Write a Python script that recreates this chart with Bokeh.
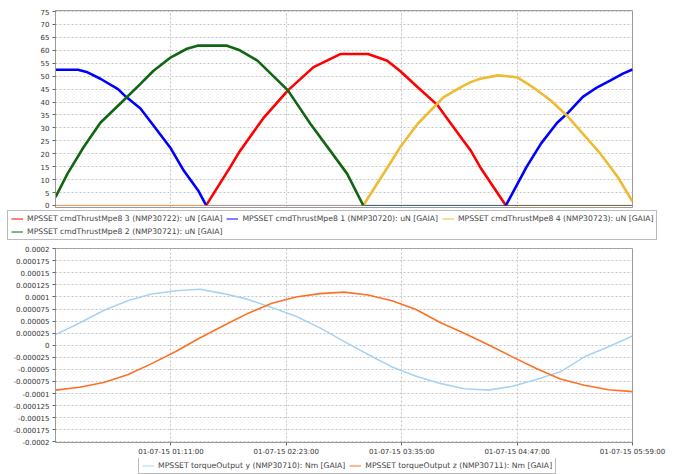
import datetime as dt

from bokeh.embed import file_html
from bokeh.models import FixedTicker, Legend, LegendItem, Range1d
from bokeh.plotting import figure
from bokeh.resources import INLINE

# ---------------------------------------------------------------- data
START = dt.datetime(2015, 6, 30, 23, 59)
END = START + dt.timedelta(hours=6)

# Thruster commands (uN); sample times in minutes after START
MPE8_1_MIN = [0, 14, 20, 28, 39, 44, 53, 61, 72, 80, 89, 94,
              281, 294, 303, 313, 320, 329, 338, 346, 354, 360]
MPE8_1_VAL = [52.5, 52.5, 51.5, 49, 45, 42, 37.5, 31, 22, 13.5, 5.8, 0,
              0, 15, 24, 32, 36, 42, 45.7, 48.3, 51, 52.6]

MPE8_2_MIN = [0, 7.5, 17.5, 28, 42.4, 53, 61, 72, 82, 88.6, 107, 115,
              126, 145, 159, 171.6, 182, 192, 360]
MPE8_2_VAL = [3.2, 12.3, 22.5, 32, 40.6, 47, 52, 57.3, 60.6, 61.8, 61.8, 60,
              56, 44.5, 31.6, 21, 12.2, 0, 0]

MPE8_3_MIN = [0, 94, 109, 115, 130, 145, 161, 178, 195, 207, 215, 226,
              238, 254.5, 259, 265, 281, 360]
MPE8_3_VAL = [0, 0, 14.8, 21, 34, 44.5, 53.5, 58.6, 58.6, 56, 52, 45.7,
              39, 25, 21.3, 14.8, 0, 0]

MPE8_4_MIN = [0, 192, 209, 215, 226, 242, 252.7, 259, 265, 276, 288, 298,
              309, 319, 329, 340, 351, 360]
MPE8_4_VAL = [0, 0, 16.5, 22.5, 31.6, 41.8, 45.7, 47.7, 49, 50.3, 49.6, 45.7,
              40.6, 34.8, 27.8, 20, 10.8, 1.5]

# Torque outputs (Nm), one sample every 15 minutes from START
TORQUE_STEP_MIN = 15
TORQUE_Y = [0.000022, 0.000046, 0.000072, 0.000092, 0.000106, 0.000113,
            0.000116, 0.000107, 0.000095, 0.000078, 0.00006, 0.000036,
            0.000008, -0.000019, -0.000045, -0.000064, -0.000079, -0.00009,
            -0.000093, -0.000085, -0.000071, -0.000055, -0.000024,
            -0.000003, 0.000019]
TORQUE_Z = [-0.000093, -0.000087, -0.000077, -0.000061, -0.000038,
            -0.000013, 0.000015, 0.000041, 0.000066, 0.000087, 0.0001,
            0.000107, 0.00011, 0.000104, 0.000092, 0.000074, 0.000047,
            0.000025, 0.000001, -0.000024, -0.000048, -0.00007, -0.000083,
            -0.000092, -0.000096]

X_TICKS = ["2015-07-01 01:11", "2015-07-01 02:23", "2015-07-01 03:35",
           "2015-07-01 04:47", "2015-07-01 05:59"]
X_TICK_LABELS = ["01-07-15 01:11:00", "01-07-15 02:23:00", "01-07-15 03:35:00",
                 "01-07-15 04:47:00", "01-07-15 05:59:00"]

Y1_TICKS = list(range(0, 80, 5))

Y2_TICKS = [0.0002, 0.000175, 0.00015, 0.000125, 0.0001, 0.000075, 0.00005,
            0.000025, 0.0, -0.000025, -0.00005, -0.000075, -0.0001,
            -0.000125, -0.00015, -0.000175, -0.0002]
Y2_LABELS = ["0.0002", "0.000175", "0.00015", "0.000125", "0.0001",
             "0.000075", "0.00005", "0.000025", "0", "-0.000025", "-0.00005",
             "-0.000075", "-0.0001", "-0.000125", "-0.00015", "-0.000175",
             "-0.0002"]

THRUST_SERIES = [
    ("MPSSET cmdThrustMpe8 3 (NMP30722): uN [GAIA]", MPE8_3_MIN, MPE8_3_VAL, "#ff0000"),
    ("MPSSET cmdThrustMpe8 1 (NMP30720): uN [GAIA]", MPE8_1_MIN, MPE8_1_VAL, "#0000ff"),
    ("MPSSET cmdThrustMpe8 4 (NMP30723): uN [GAIA]", MPE8_4_MIN, MPE8_4_VAL, "#eebb33"),
    ("MPSSET cmdThrustMpe8 2 (NMP30721): uN [GAIA]", MPE8_2_MIN, MPE8_2_VAL, "#116611"),
]
TORQUE_SERIES = [
    ("MPSSET torqueOutput y (NMP30710): Nm [GAIA]", TORQUE_Y, "#a9d3f3"),
    ("MPSSET torqueOutput z (NMP30711): Nm [GAIA]", TORQUE_Z, "#ff7024"),
]

# ---------------------------------------------------------------- helpers
FONT = "DejaVu Sans"
TICK_COLOR = "#333333"
GRID_COLOR = "#c4c4c4"
FRAME_COLOR = "#9a9a9a"
WIDTH = 673


def to_time(minutes):
    return [START + dt.timedelta(minutes=m) for m in minutes]


def to_ms(stamp):
    t = dt.datetime.strptime(stamp, "%Y-%m-%d %H:%M")
    return (t - dt.datetime(1970, 1, 1)).total_seconds() * 1000.0


def active_segments(times, vals):
    """Split a series into the stretches where the thruster is firing."""
    xs, ys, cx, cy = [], [], [], []
    for i in range(len(vals) - 1):
        if vals[i] == 0 and vals[i + 1] == 0:
            if cx:
                xs.append(cx)
                ys.append(cy)
                cx, cy = [], []
            continue
        if not cx:
            cx, cy = [times[i]], [vals[i]]
        cx.append(times[i + 1])
        cy.append(vals[i + 1])
    if cx:
        xs.append(cx)
        ys.append(cy)
    return xs, ys


def style_axis(ax, standoff):
    ax.major_label_text_font = FONT
    ax.major_label_text_font_size = "7px"
    ax.major_label_text_color = TICK_COLOR
    ax.axis_line_color = FRAME_COLOR
    ax.major_tick_line_color = "#666666"
    ax.major_tick_out = 3
    ax.major_tick_in = 0
    ax.minor_tick_line_color = None
    ax.major_label_standoff = standoff


def style_common(p):
    p.outline_line_color = FRAME_COLOR
    p.outline_line_width = 1
    p.background_fill_color = "white"
    p.border_fill_color = "white"
    for ax in p.yaxis:
        style_axis(ax, 3)
    for g in p.grid:
        g.grid_line_color = GRID_COLOR
        g.grid_line_dash = "2 2"
        g.grid_line_width = 1


def legend_strip(height, entries, location, ncols):
    """A bare strip that carries only a boxed legend."""
    f = figure(width=WIDTH, height=height, x_range=Range1d(0, 1),
               y_range=Range1d(0, 1), x_axis_location=None,
               y_axis_location=None, output_backend="svg",
               toolbar_location=None, min_border=0)
    f.grid.visible = False
    f.outline_line_color = None
    f.border_fill_color = "white"
    items = []
    for label, color in entries:
        # swatch renderer; its points sit outside the visible range
        r = f.line(x=[2, 3], y=[2, 2], line_color=color, line_width=1)
        items.append(LegendItem(label=label, renderers=[r]))
    leg = Legend(
        items=items, location=location, orientation="horizontal",
        ncols=ncols,
        label_text_font=FONT, label_text_font_size="7.7px",
        label_text_color="#444444", label_standoff=4, label_height=9,
        glyph_width=12, glyph_height=9, spacing=4, padding=3, margin=0,
        border_line_color="#777777", border_line_width=1,
        background_fill_color="white", background_fill_alpha=1.0,
    )
    f.add_layout(leg, "center")
    return f


x_range = Range1d(START, END)
x_tick_ms = [to_ms(s) for s in X_TICKS]

# ---------------------------------------------------------------- thrust plot
p1 = figure(width=WIDTH, height=210, x_axis_type="datetime", x_range=x_range,
            y_range=Range1d(-0.8, 75.4), x_axis_location=None,
            output_backend="svg", toolbar_location=None,
            min_border_left=55, min_border_right=41, min_border_top=10,
            min_border_bottom=3)
p1.yaxis.ticker = FixedTicker(ticks=Y1_TICKS)
p1.ygrid.ticker = FixedTicker(ticks=Y1_TICKS)
p1.xgrid.ticker = FixedTicker(ticks=x_tick_ms)
style_common(p1)

for label, mins, vals, color in THRUST_SERIES:
    times = to_time(mins)
    p1.line(times, vals, line_color=color, line_width=1, line_alpha=0.55)
    xs, ys = active_segments(times, vals)
    p1.multi_line(xs, ys, line_color=color, line_width=2.6)

leg1 = legend_strip(32, [(s[0], s[3]) for s in THRUST_SERIES], (7, 2), 3)

# ---------------------------------------------------------------- torque plot
p2 = figure(width=WIDTH, height=216, x_axis_type="datetime", x_range=x_range,
            y_range=Range1d(-0.0002014, 0.0002004),
            output_backend="svg", toolbar_location=None,
            min_border_left=55, min_border_right=41, min_border_top=6,
            min_border_bottom=14)
p2.yaxis.ticker = FixedTicker(ticks=Y2_TICKS)
p2.yaxis.major_label_overrides = dict(zip(Y2_TICKS, Y2_LABELS))
p2.ygrid.ticker = FixedTicker(ticks=Y2_TICKS)
p2.xaxis.ticker = FixedTicker(ticks=x_tick_ms)
p2.xaxis.major_label_overrides = dict(zip(x_tick_ms, X_TICK_LABELS))
p2.xgrid.ticker = FixedTicker(ticks=x_tick_ms)
style_common(p2)
for ax in p2.xaxis:
    style_axis(ax, 2)

torque_times = [START + dt.timedelta(minutes=TORQUE_STEP_MIN * i)
                for i in range(len(TORQUE_Y))]
for label, vals, color in TORQUE_SERIES:
    p2.line(torque_times, vals, line_color=color, line_width=1.6)

leg2 = legend_strip(16, [(s[0], s[2]) for s in TORQUE_SERIES], (138, 0), 2)

# each piece is its own root, stacked top to bottom on the page
open("out.html", "w").write(file_html([p1, leg1, p2, leg2], INLINE))
